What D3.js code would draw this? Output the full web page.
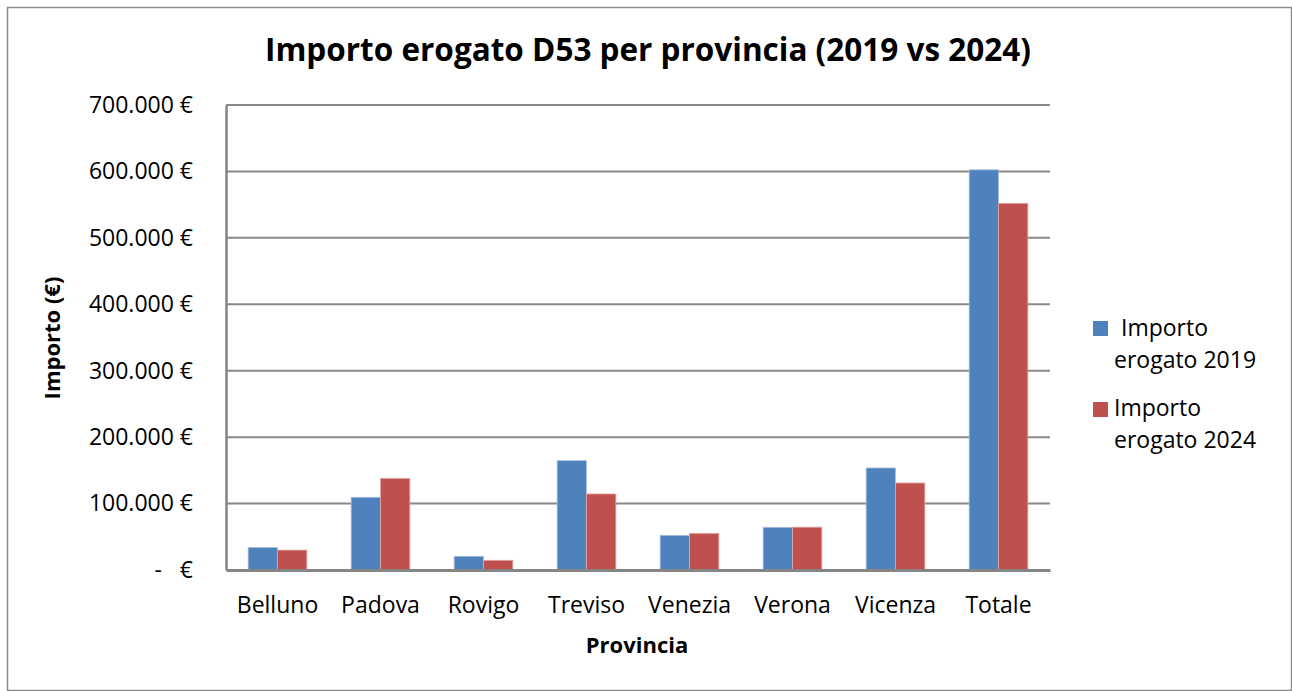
<!DOCTYPE html>
<html>
<head>
<meta charset="utf-8">
<script src="https://cdn.jsdelivr.net/npm/d3@7"></script>
<style>
  body { margin: 0; background: #fff; }
  text { font-family: "Open Sans", "Noto Sans", sans-serif; fill: #000; }
</style>
</head>
<body>
<div id="chart"></div>
<script>
var province = ["Belluno", "Padova", "Rovigo", "Treviso", "Venezia", "Verona", "Vicenza", "Totale"];
var importo2019 = [34000, 109500, 20600, 164600, 52200, 64300, 153600, 602400];
var importo2024 = [30000, 138000, 14600, 114500, 55200, 64500, 131000, 552000];
var seriesNames = ["Importo erogato 2019", "Importo erogato 2024"];
var yTicks = [0, 100000, 200000, 300000, 400000, 500000, 600000, 700000];
var yTickLabels = ["-   €", "100.000 €", "200.000 €", "300.000 €", "400.000 €", "500.000 €", "600.000 €", "700.000 €"];
var colors = ["#4F81BD", "#C0504D"];

var svgWidth = 1292, svgHeight = 691;
var margin = {top: 105, right: 242, bottom: 121, left: 226};
var width = svgWidth - margin.left - margin.right;
var height = svgHeight - margin.top - margin.bottom;

var svg = d3.select("#chart").append("svg")
    .attr("width", svgWidth)
    .attr("height", svgHeight);

// outer frame
svg.append("rect")
    .attr("x", 7.5).attr("y", 7.5)
    .attr("width", svgWidth - 8).attr("height", svgHeight - 8)
    .attr("fill", "none").attr("stroke", "#8c8c8c").attr("stroke-width", 1.5);

var g = svg.append("g").attr("transform", "translate(" + margin.left + "," + margin.top + ")");

var x = d3.scaleBand().domain(province).range([0, width]).paddingInner(0.43).paddingOuter(0.215);
var xInner = d3.scaleBand().domain([0, 1]).range([0, x.bandwidth()]);
var y = d3.scaleLinear().domain([0, 700000]).range([height, 0]);

// gridlines
g.selectAll(".grid").data(yTicks.slice(1)).enter().append("line")
    .attr("x1", 0).attr("x2", width)
    .attr("y1", function(d) { return y(d); }).attr("y2", function(d) { return y(d); })
    .attr("stroke", "#888").attr("stroke-width", 2);

// bars
var data = province.map(function(p, i) { return {p: p, v: [importo2019[i], importo2024[i]]}; });
var groups = g.selectAll(".grp").data(data).enter().append("g")
    .attr("transform", function(d) { return "translate(" + x(d.p) + ",0)"; });
groups.selectAll("rect").data(function(d) { return d.v; }).enter().append("rect")
    .attr("x", function(d, i) { return xInner(i); })
    .attr("y", function(d) { return y(d); })
    .attr("width", xInner.bandwidth())
    .attr("height", function(d) { return height - y(d); })
    .attr("fill", function(d, i) { return colors[i]; })
    .attr("stroke", function(d, i) { return i === 0 ? "#a9c1e0" : "#e2a9a7"; })
    .attr("stroke-width", 0.8);

// axes
var yAxis = d3.axisLeft(y).tickValues(yTicks).tickSize(0).tickPadding(33)
    .tickFormat(function(d, i) { return yTickLabels[i]; });
var yg = g.append("g").call(yAxis);
yg.select(".domain").attr("stroke", "#858585").attr("stroke-width", 2.5);
yg.selectAll("text").style("font-size", "23px").attr("fill", "#000").style("white-space", "pre");

var xAxis = d3.axisBottom(x).tickSize(0).tickPadding(27);
var xg = g.append("g").attr("transform", "translate(0," + height + ")").call(xAxis);
xg.select(".domain").attr("stroke", "#858585").attr("stroke-width", 3);
xg.selectAll("text").style("font-size", "23px").attr("fill", "#000");

// title
svg.append("text")
    .attr("x", 648).attr("y", 61)
    .attr("text-anchor", "middle")
    .style("font-size", "31.5px").style("font-weight", "bold")
    .text("Importo erogato D53 per provincia (2019 vs 2024)");

svg.append("text")
    .attr("x", 637).attr("y", 653)
    .attr("text-anchor", "middle")
    .style("font-size", "22px").style("font-weight", "bold")
    .text("Provincia");

svg.append("text")
    .attr("transform", "translate(60,338)rotate(-90)")
    .attr("text-anchor", "middle")
    .style("font-size", "22px").style("font-weight", "bold")
    .text("Importo (€)");

// legend
var legendY = [321, 402];
var leg = svg.selectAll(".leg").data(seriesNames).enter().append("g")
    .attr("transform", function(d, i) { return "translate(1093," + legendY[i] + ")"; });
leg.append("rect").attr("width", 15).attr("height", 15)
    .attr("fill", function(d, i) { return colors[i]; });
leg.append("text").attr("x", function(d, i) { return i === 0 ? 28 : 21; }).attr("y", function(d, i) { return i === 0 ? 15 : 14; })
    .style("font-size", "23px").text("Importo");
leg.append("text").attr("x", 21).attr("y", function(d, i) { return i === 0 ? 47 : 46; })
    .style("font-size", "23px").text(function(d) { return d.replace("Importo ", ""); });
</script>
</body>
</html>
